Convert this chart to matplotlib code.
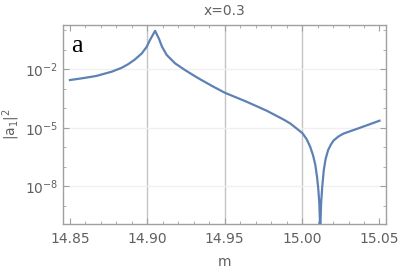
from matplotlib import pyplot as plt
import numpy as np

# values (m, log10 |a1|^2)
m_vals = [14.850, 14.857, 14.867, 14.877, 14.8834, 14.8877, 14.892, 14.8964,
          14.8996, 14.9017, 14.9050, 14.9074, 14.9095, 14.9125, 14.9179,
          14.9244, 14.9309, 14.935, 14.9417, 14.950, 14.9643, 14.9772,
          14.988, 14.9923, 14.9955, 15.0003, 15.0030, 15.0052, 15.0070,
          15.0085, 15.0096, 15.0104, 15.0111, 15.0115, 15.0117, 15.0119,
          15.0123, 15.0130, 15.0140, 15.0152, 15.0168, 15.0185, 15.0203,
          15.0235, 15.0268, 15.0354, 15.0441, 15.050]
log_a1sq = [-2.55, -2.47, -2.34, -2.12, -1.92, -1.73, -1.49, -1.18,
            -0.84, -0.49, -0.02, -0.41, -0.84, -1.26, -1.69,
            -2.04, -2.36, -2.55, -2.85, -3.20, -3.67, -4.13,
            -4.58, -4.78, -4.98, -5.29, -5.60, -5.98, -6.40,
            -6.90, -7.50, -8.10, -8.85, -9.80, -12.0, -9.80,
            -8.85, -8.04, -7.18, -6.60, -6.15, -5.88, -5.66,
            -5.45, -5.30, -5.06, -4.81, -4.64]

x_ticks = [14.85, 14.90, 14.95, 15.00, 15.05]
x_tick_labels = ["14.85", "14.90", "14.95", "15.00", "15.05"]
y_ticks = [1e-8, 1e-5, 1e-2]

GRAY_TEXT = "#606060"
FRAME = "#a0a0a0"


def main():
    fig = plt.figure(figsize=(4.15, 2.72), dpi=100)
    ax = fig.add_axes([63 / 415, 1 - 224 / 272, 323 / 415, 199 / 272])

    a1sq = 10.0 ** np.array(log_a1sq)

    for xv in [14.90, 14.95, 15.00]:
        ax.axvline(xv, color="#c4c4c4", lw=1.0, zorder=1)
    for yv in y_ticks:
        ax.axhline(yv, color="#f0f0f0", lw=1.0, zorder=1)

    ax.plot(m_vals, a1sq, color="#5E81B5", lw=1.6, zorder=3,
            solid_joinstyle="round")

    ax.set_yscale("log")
    ax.set_xlim(14.8455, 15.0542)
    ax.set_ylim(10 ** -9.95, 10 ** 0.28)

    ax.set_xticks(x_ticks)
    ax.set_xticklabels(x_tick_labels)
    ax.set_xticks(np.arange(14.85, 15.0501, 0.01), minor=True)
    ax.set_yticks(y_ticks)
    ax.set_yticks([10.0 ** k for k in range(-9, 1)], minor=True)
    ax.yaxis.set_minor_formatter(plt.NullFormatter())

    ax.tick_params(which="both", direction="in", top=True, right=True,
                   colors=FRAME, labelcolor=GRAY_TEXT, labelsize=10)
    ax.tick_params(which="major", length=4, width=0.8)
    ax.tick_params(which="minor", length=2, width=0.6)
    ax.tick_params(axis="x", pad=6)
    for s in ax.spines.values():
        s.set_color(FRAME)
        s.set_linewidth(1.0)

    ax.set_title("x=0.3", color=GRAY_TEXT, fontsize=10, pad=7)
    ax.set_xlabel("m", color=GRAY_TEXT, fontsize=10, labelpad=6)
    ax.set_ylabel(r"$|\mathrm{a}_1|^2$", color=GRAY_TEXT, fontsize=10, labelpad=2)

    ax.text(0.025, 0.866, "a", transform=ax.transAxes, family="Liberation Serif",
            fontsize=19, color="black", va="baseline", ha="left")

    fig.savefig("out.png", dpi=100)


if __name__ == '__main__':
    main()
